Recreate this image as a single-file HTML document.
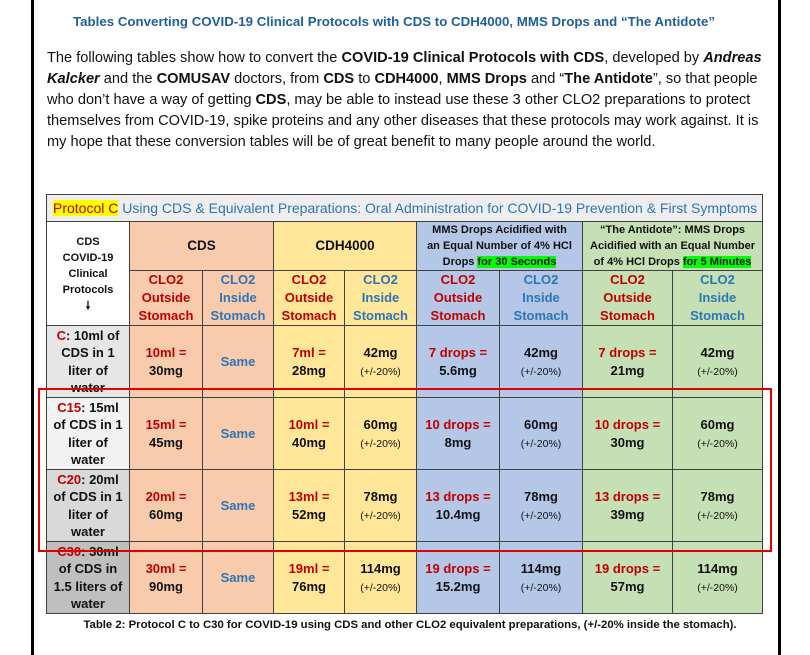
<!DOCTYPE html>
<html><head><meta charset="utf-8"><style>
body{margin:0;width:810px;height:655px;background:#fff;position:relative;overflow:hidden;font-family:"Liberation Sans",sans-serif;}
.vl{position:absolute;top:0;width:3px;height:655px;background:#000;}
.title{position:absolute;top:14px;left:-11px;width:810px;text-align:center;color:#1f5f9a;font-weight:bold;font-size:13.3px;}
.para{position:absolute;top:48px;left:47px;font-size:14.6px;line-height:21px;color:#111;white-space:nowrap;}
table{position:absolute;left:46px;top:194px;border-collapse:collapse;table-layout:fixed;width:716px;}
td{border:1px solid #404040;text-align:center;vertical-align:middle;padding:0;font-weight:bold;font-size:13px;line-height:18px;color:#111;overflow:hidden;}
.r{color:#c00000}.b{color:#2e75b6}
.pe{background:#f8cbad}.ye{background:#ffe699}.bl{background:#b4c7e7}.gr{background:#c5e0b4}
.s{font-weight:normal;font-size:10.5px;line-height:14px}
.hl{background:#00ff00}
.lb{line-height:17.5px}
.cap{position:absolute;top:619px;left:0;width:820px;text-align:center;font-weight:bold;font-size:11.35px;color:#111;}
.box{position:absolute;left:38px;top:388px;width:730px;height:160px;border:2px solid #e00000;}
</style></head><body>
<div class="vl" style="left:31px"></div><div class="vl" style="left:778px"></div>
<div class="title">Tables Converting COVID-19 Clinical Protocols with CDS to CDH4000, MMS Drops and “The Antidote”</div>
<div class="para">The following tables show how to convert the <b>COVID-19 Clinical Protocols with CDS</b>, developed by <b><i>Andreas</i></b><br><b><i>Kalcker</i></b> and the <b>COMUSAV</b> doctors, from <b>CDS</b> to <b>CDH4000</b>, <b>MMS Drops</b> and “<b>The Antidote</b>”, so that people<br>who don’t have a way of getting <b>CDS</b>, may be able to instead use these 3 other CLO2 preparations to protect<br>themselves from COVID-19, spike proteins and any other diseases that these protocols may work against. It is<br>my hope that these conversion tables will be of great benefit to many people around the world.</div>
<table>
<colgroup><col style="width:83px"><col style="width:73px"><col style="width:71px"><col style="width:71px"><col style="width:72px"><col style="width:83px"><col style="width:83px"><col style="width:90px"><col style="width:90px"></colgroup>
<tr style="height:27px"><td colspan="9" style="background:#eeeeee;text-align:left;padding-left:6px;font-weight:normal;font-size:14px;color:#2e75b6"><span style="background:#ffff00;color:#c00000">Protocol C</span> Using CDS &amp; Equivalent Preparations: Oral Administration for COVID-19 Prevention &amp; First Symptoms</td></tr>
<tr style="height:49px"><td rowspan="2" style="background:#fff;font-size:11px;line-height:16px">CDS<br>COVID-19<br>Clinical<br>Protocols<br>🠗</td>
<td colspan="2" class="pe" style="font-size:13.5px">CDS</td><td colspan="2" class="ye" style="font-size:13.5px">CDH4000</td>
<td colspan="2" class="bl" style="font-size:11px;line-height:16px">MMS Drops Acidified with<br>an Equal Number of 4% HCl<br>Drops <span class="hl">for 30 Seconds</span></td>
<td colspan="2" class="gr" style="font-size:11px;line-height:16px">“The Antidote”: MMS Drops<br>Acidified with an Equal Number<br>of 4% HCl Drops <span class="hl">for 5 Minutes</span></td></tr>
<tr style="height:53px">
<td class="pe r">CLO2<br>Outside<br>Stomach</td><td class="pe b">CLO2<br>Inside<br>Stomach</td>
<td class="ye r">CLO2<br>Outside<br>Stomach</td><td class="ye b">CLO2<br>Inside<br>Stomach</td>
<td class="bl r">CLO2<br>Outside<br>Stomach</td><td class="bl b">CLO2<br>Inside<br>Stomach</td>
<td class="gr r">CLO2<br>Outside<br>Stomach</td><td class="gr b">CLO2<br>Inside<br>Stomach</td></tr>
<tr style="height:72px"><td class="lb" style="background:#e7e6e6"><span class="r">C</span>: 10ml of<br>CDS in 1<br>liter of<br>water</td>
<td class="pe"><span class="r">10ml =</span><br>30mg</td><td class="pe b">Same</td>
<td class="ye"><span class="r">7ml =</span><br>28mg</td><td class="ye">42mg<br><span class="s">(+/-20%)</span></td>
<td class="bl"><span class="r">7 drops =</span><br>5.6mg</td><td class="bl">42mg<br><span class="s">(+/-20%)</span></td>
<td class="gr"><span class="r">7 drops =</span><br>21mg</td><td class="gr">42mg<br><span class="s">(+/-20%)</span></td></tr>
<tr style="height:72px"><td class="lb" style="background:#f2f2f2"><span class="r">C15</span>: 15ml<br>of CDS in 1<br>liter of<br>water</td>
<td class="pe"><span class="r">15ml =</span><br>45mg</td><td class="pe b">Same</td>
<td class="ye"><span class="r">10ml =</span><br>40mg</td><td class="ye">60mg<br><span class="s">(+/-20%)</span></td>
<td class="bl"><span class="r">10 drops =</span><br>8mg</td><td class="bl">60mg<br><span class="s">(+/-20%)</span></td>
<td class="gr"><span class="r">10 drops =</span><br>30mg</td><td class="gr">60mg<br><span class="s">(+/-20%)</span></td></tr>
<tr style="height:72px"><td class="lb" style="background:#d9d9d9"><span class="r">C20</span>: 20ml<br>of CDS in 1<br>liter of<br>water</td>
<td class="pe"><span class="r">20ml =</span><br>60mg</td><td class="pe b">Same</td>
<td class="ye"><span class="r">13ml =</span><br>52mg</td><td class="ye">78mg<br><span class="s">(+/-20%)</span></td>
<td class="bl"><span class="r">13 drops =</span><br>10.4mg</td><td class="bl">78mg<br><span class="s">(+/-20%)</span></td>
<td class="gr"><span class="r">13 drops =</span><br>39mg</td><td class="gr">78mg<br><span class="s">(+/-20%)</span></td></tr>
<tr style="height:72px"><td class="lb" style="background:#bfbfbf"><span class="r">C30</span>: 30ml<br>of CDS in<br>1.5 liters of<br>water</td>
<td class="pe"><span class="r">30ml =</span><br>90mg</td><td class="pe b">Same</td>
<td class="ye"><span class="r">19ml =</span><br>76mg</td><td class="ye">114mg<br><span class="s">(+/-20%)</span></td>
<td class="bl"><span class="r">19 drops =</span><br>15.2mg</td><td class="bl">114mg<br><span class="s">(+/-20%)</span></td>
<td class="gr"><span class="r">19 drops =</span><br>57mg</td><td class="gr">114mg<br><span class="s">(+/-20%)</span></td></tr>
</table>
<div class="box"></div>
<div class="cap">Table 2: Protocol C to C30 for COVID-19 using CDS and other CLO2 equivalent preparations, (+/-20% inside the stomach).</div>
</body></html>
